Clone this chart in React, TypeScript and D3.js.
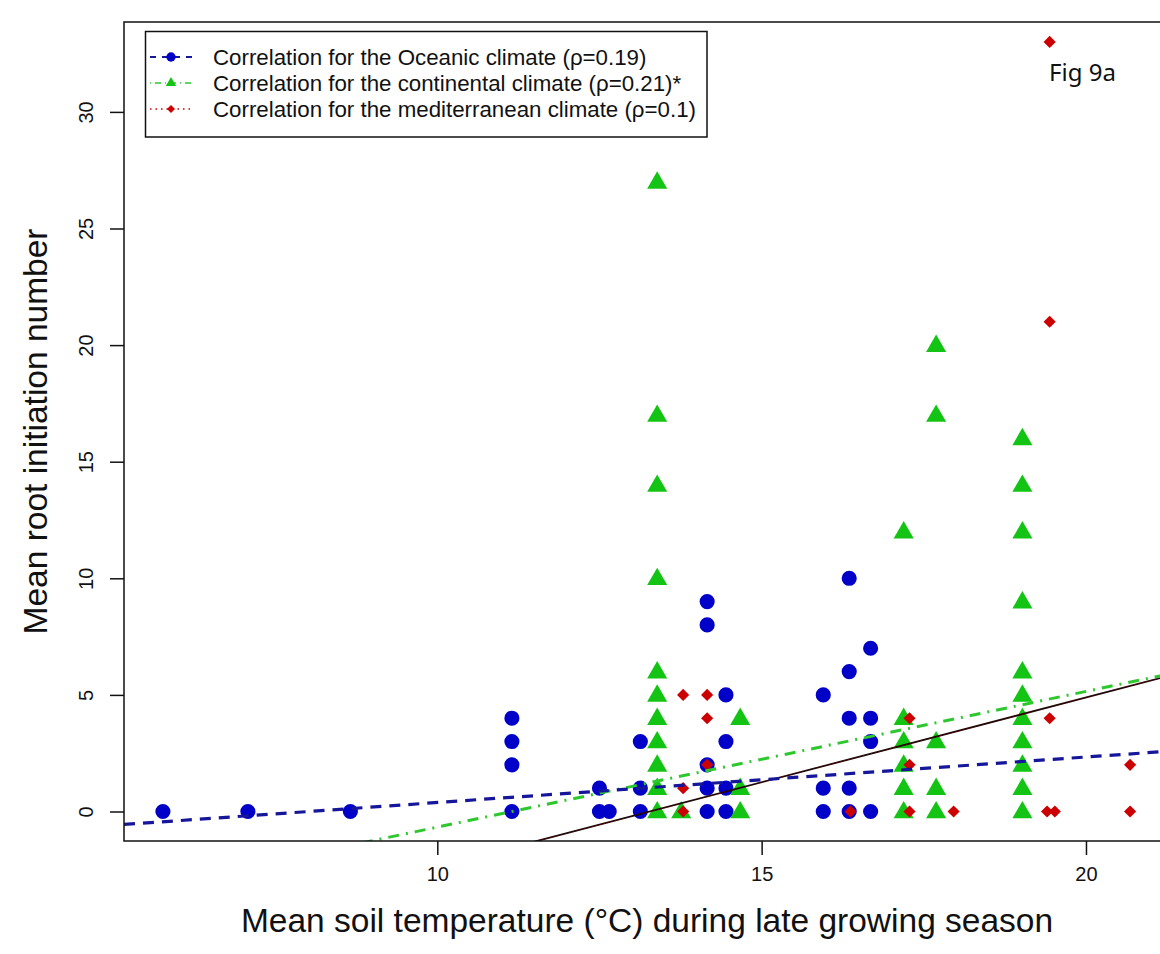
import React, { useEffect, useRef } from "react";
import * as d3 from "d3";

// Oceanic climate (blue circles)
const oceanicTemp = [5.77, 7.08, 8.66, 11.15, 11.15, 11.15, 11.15, 12.5, 12.5, 12.65, 13.13, 13.13, 13.13,
  14.16, 14.16, 14.16, 14.16, 14.16, 14.45, 14.45, 14.45, 14.45, 15.95, 15.95, 15.95,
  16.35, 16.35, 16.35, 16.35, 16.35, 16.68, 16.68, 16.68, 16.68];
const oceanicRoots = [0, 0, 0, 4, 3, 2, 0, 1, 0, 0, 3, 1, 0,
  9, 8, 2, 1, 0, 5, 3, 1, 0, 5, 1, 0,
  10, 6, 4, 1, 0, 7, 4, 3, 0];

// Continental climate (green triangles)
const continentalTemp = [13.39, 13.39, 13.39, 13.39, 13.39, 13.39, 13.39, 13.39, 13.39, 13.39, 13.39, 13.76,
  14.67, 14.67, 14.67, 17.19, 17.19, 17.19, 17.19, 17.19, 17.19, 17.69, 17.69, 17.69, 17.69, 17.69,
  19.02, 19.02, 19.02, 19.02, 19.02, 19.02, 19.02, 19.02, 19.02, 19.02, 19.02];
const continentalRoots = [27, 17, 14, 10, 6, 5, 4, 3, 2, 1, 0, 0,
  4, 1, 0, 12, 4, 3, 2, 1, 0, 20, 17, 3, 1, 0,
  16, 14, 12, 9, 6, 5, 4, 3, 2, 1, 0];

// Mediterranean climate (red diamonds)
const medTemp = [13.79, 13.79, 13.79, 14.16, 14.16, 14.16, 16.37, 17.28, 17.28, 17.28, 17.96,
  19.44, 19.44, 19.44, 19.4, 19.52, 20.68, 20.68];
const medRoots = [5, 1, 0, 5, 4, 2, 0, 4, 2, 0, 0, 33, 21, 4, 0, 0, 2, 0];

// regression lines: oceanic, continental, mediterranean
const fitSlopes = [0.195, 0.582, 0.727];
const fitIntercepts = [-1.564, -6.49, -9.65];

const legendLabels = [
  "Correlation for the Oceanic climate (\u03C1=0.19)",
  "Correlation for the continental climate (\u03C1=0.21)*",
  "Correlation for the mediterranean climate (\u03C1=0.1)",
];

const xTicks = [10, 15, 20];
const yTicks = [0, 5, 10, 15, 20, 25, 30];

const FONT = "'Liberation Sans', Arial, sans-serif";
const BLUE = "#0000c8";
const GREEN = "#14c414";
const RED = "#cc0000";

export default function App() {
  const ref = useRef<SVGSVGElement>(null);
  const width = 1160;
  const height = 954;
  const plot = { left: 124, top: 22, right: 1169, bottom: 841 };

  useEffect(() => {
    if (!ref.current) return;
    const svg = d3.select(ref.current);
    svg.selectAll("*").remove();

    const x = d3.scaleLinear().domain([5.17, 21.28]).range([plot.left, plot.right]);
    const y = d3.scaleLinear().domain([-1.265, 33.855]).range([plot.bottom, plot.top]);

    svg.append("rect").attr("width", width).attr("height", height).attr("fill", "#fff");

    svg.append("defs").append("clipPath").attr("id", "plotclip")
      .append("rect")
      .attr("x", plot.left).attr("y", plot.top)
      .attr("width", plot.right - plot.left).attr("height", plot.bottom - plot.top);

    const g = svg.append("g").attr("clip-path", "url(#plotclip)");

    // points
    const circle = d3.symbol(d3.symbolCircle, 180)();
    const tri = d3.symbol(d3.symbolTriangle, 175)();
    const diamond = d3.symbol(d3.symbolSquare, 74)();

    g.selectAll(".oce").data(oceanicTemp).enter().append("path")
      .attr("d", circle)
      .attr("fill", BLUE)
      .attr("transform", (d, i) => `translate(${x(d)},${y(oceanicRoots[i])})`);

    g.selectAll(".con").data(continentalTemp).enter().append("path")
      .attr("d", tri)
      .attr("fill", GREEN)
      .attr("transform", (d, i) => `translate(${x(d)},${y(continentalRoots[i]) + 1})`);

    g.selectAll(".med").data(medTemp).enter().append("path")
      .attr("d", diamond)
      .attr("fill", RED)
      .attr("transform", (d, i) => `translate(${x(d)},${y(medRoots[i])}) rotate(45)`);

    // regression lines
    const [x0, x1] = x.domain();
    const fitLine = (k: number) => [[x0, fitIntercepts[k] + fitSlopes[k] * x0], [x1, fitIntercepts[k] + fitSlopes[k] * x1]];
    const line = d3.line<number[]>().x(d => x(d[0])).y(d => y(d[1]));

    g.append("path").attr("d", line(fitLine(2))).attr("stroke", "#1a0606").attr("stroke-width", 1.8).attr("fill", "none");
    g.append("path").attr("d", line(fitLine(2))).attr("stroke", RED).attr("stroke-width", 1)
      .attr("stroke-dasharray", "1 3").attr("stroke-opacity", 0.5).attr("fill", "none");
    g.append("path").attr("d", line(fitLine(1))).attr("stroke", "#2ec82e").attr("stroke-width", 3)
      .attr("stroke-dasharray", "11 7 2 7").attr("fill", "none");
    g.append("path").attr("d", line(fitLine(0))).attr("stroke", "#16169a").attr("stroke-width", 3.2)
      .attr("stroke-dasharray", "11 8").attr("fill", "none");

    // box
    svg.append("rect")
      .attr("x", plot.left).attr("y", plot.top)
      .attr("width", plot.right - plot.left).attr("height", plot.bottom - plot.top)
      .attr("fill", "none").attr("stroke", "#111").attr("stroke-width", 1.5);

    // axes
    const xAxis = svg.append("g")
      .attr("transform", `translate(0,${plot.bottom})`)
      .call(d3.axisBottom(x).tickValues(xTicks).tickSize(14).tickPadding(26).tickFormat(d3.format("d")));
    xAxis.select(".domain").remove();
    xAxis.selectAll("line").attr("stroke", "#111").attr("stroke-width", 1.5);
    xAxis.selectAll("text").attr("font-family", FONT).attr("font-size", 20).attr("fill", "#111").attr("dy", "0");

    const yAxis = svg.append("g")
      .attr("transform", `translate(${plot.left},0)`)
      .call(d3.axisLeft(y).tickValues(yTicks).tickSize(14).tickFormat(d3.format("d")));
    yAxis.select(".domain").remove();
    yAxis.selectAll("line").attr("stroke", "#111").attr("stroke-width", 1.5);
    yAxis.selectAll("text")
      .attr("font-family", FONT).attr("font-size", 20).attr("fill", "#111")
      .attr("x", null).attr("dy", null)
      .attr("text-anchor", "middle")
      .attr("transform", "translate(-31,0) rotate(-90)");

    // axis titles
    svg.append("text")
      .attr("x", 647).attr("y", 932)
      .attr("text-anchor", "middle")
      .attr("font-family", FONT).attr("font-size", 33.5).attr("fill", "#111")
      .text("Mean soil temperature (\u00B0C) during late growing season");
    svg.append("text")
      .attr("transform", `translate(47,${(plot.top + plot.bottom) / 2}) rotate(-90)`)
      .attr("text-anchor", "middle")
      .attr("font-family", FONT).attr("font-size", 33.5).attr("fill", "#111")
      .text("Mean root initiation number");

    // legend
    const lg = svg.append("g");
    lg.append("rect").attr("x", 145.5).attr("y", 31.5).attr("width", 561.5).attr("height", 105.5)
      .attr("fill", "#fff").attr("stroke", "#111").attr("stroke-width", 1.5);
    const rows = [57, 83, 109];
    const lineStyles = [
      { stroke: "#16169a", dash: "6 6", w: 2 },
      { stroke: "#2ec82e", dash: "1 4 6 4", w: 1.6 },
      { stroke: RED, dash: "1.5 4", w: 1.5 },
    ];
    const legendSymbols = [
      d3.symbol(d3.symbolCircle, 68)(),
      d3.symbol(d3.symbolTriangle, 48)(),
      d3.symbol(d3.symbolSquare, 32)(),
    ];
    const legendColors = [BLUE, GREEN, RED];
    legendLabels.forEach((label, i) => {
      lg.append("line").attr("x1", 150).attr("x2", 193).attr("y1", rows[i]).attr("y2", rows[i])
        .attr("stroke", lineStyles[i].stroke).attr("stroke-width", lineStyles[i].w)
        .attr("stroke-dasharray", lineStyles[i].dash);
      lg.append("path").attr("d", legendSymbols[i]).attr("fill", legendColors[i])
        .attr("transform", `translate(171,${rows[i]})${i === 2 ? " rotate(45)" : ""}`);
      lg.append("text").attr("x", 213).attr("y", rows[i] + 8)
        .attr("font-family", FONT).attr("font-size", 22.3).attr("fill", "#111")
        .text(label);
    });

    svg.append("text")
      .attr("x", 1049).attr("y", 81)
      .attr("font-family", "'Noto Sans', 'Open Sans', sans-serif").attr("font-size", 24).attr("fill", "#111")
      .text("Fig 9a");
  }, []);

  return (
    <div style={{ position: "absolute", left: 0, top: 0, width, height, overflow: "hidden", background: "#fff" }}>
      <svg ref={ref} width={width} height={height} style={{ display: "block" }}></svg>
    </div>
  );
}
